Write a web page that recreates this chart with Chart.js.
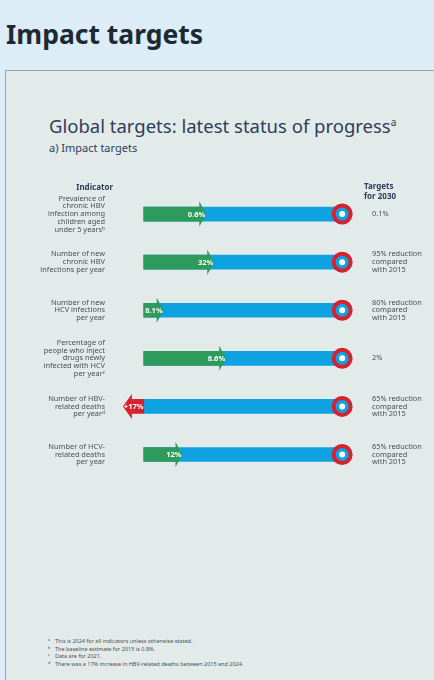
<!DOCTYPE html>
<html>
<head>
<meta charset="utf-8">
<script src="https://cdn.jsdelivr.net/npm/chart.js@4"></script>
<style>
  html, body { margin: 0; padding: 0; }
  body { width: 434px; height: 680px; position: relative; overflow: hidden; background: #dcedf8; font-family: "Noto Sans", sans-serif; }
  #header { position: absolute; left: 6px; top: 21px; font-size: 26.5px; line-height: 1; font-weight: 700; color: #1c2a35; }
  #panel { position: absolute; left: 5px; top: 70px; right: -2px; bottom: -2px; background: #e3ebea; border-left: 1.5px solid #9ba5a7; border-top: 1.5px solid #9ba5a7; }
  #title { position: absolute; left: 49px; top: 117px; font-size: 18.5px; line-height: 1; color: #2e3d5a; }
  #title sup { font-size: 10px; vertical-align: 7px; }
  #subtitle { position: absolute; left: 49px; top: 142px; font-size: 11px; line-height: 1; color: #2e3d5a; }
  #chartBox { position: absolute; left: 0; top: 170px; width: 434px; height: 331px; }
  #notes { position: absolute; left: 48px; top: 638px; font-size: 5.5px; line-height: 7.5px; color: #4a4f52; }
  #notes span { display: inline-block; width: 7px; }
</style>
</head>
<body>
<div id="header">Impact targets</div>
<div id="panel"></div>
<div id="title">Global targets: latest status of progress<sup>a</sup></div>
<div id="subtitle">a) Impact targets</div>
<div id="chartBox"><canvas id="progressChart"></canvas></div>
<div id="notes">
  <div><span>ᵃ</span>This is 2024 for all indicators unless otherwise stated.</div>
  <div><span>ᵇ</span>The baseline estimate for 2015 is 0.8%.</div>
  <div><span>ᶜ</span>Data are for 2021.</div>
  <div><span>ᵈ</span>There was a 17% increase in HBV-related deaths between 2015 and 2024.</div>
</div>
<script>
const indicators = [
  ["Prevalence of", "chronic HBV", "infection among", "children aged", "under 5 yearsᵇ"],
  ["Number of new", "chronic HBV", "infections per year"],
  ["Number of new", "HCV infections", "per year"],
  ["Percentage of", "people who inject", "drugs newly", "infected with HCV", "per yearᶜ"],
  ["Number of HBV-", "related deaths", "per yearᵈ"],
  ["Number of HCV-", "related deaths", "per year"],
];
const targets2030 = [
  "0.1%",
  ["95% reduction", "compared", "with 2015"],
  ["80% reduction", "compared", "with 2015"],
  "2%",
  ["65% reduction", "compared", "with 2015"],
  ["65% reduction", "compared", "with 2015"],
];
// progress along the track, 0 = 2015 baseline, 100 = 2030 target
const progress = [28, 32, 6.5, 38, -6, 16];
const progressLabels = ["0.6%", "32%", "8.1%", "8.6%", "+17%", "12%"];
const track = [100, 100, 100, 100, 100, 100];

const GREEN = "#2e9a5c";
const RED = "#d6212e";
const BLUE = "#0ea3e0";

// arrow heads + value text on the progress bars
const arrowPlugin = {
  id: "arrows",
  afterDatasetsDraw(chart) {
    const ctx = chart.ctx;
    const meta = chart.getDatasetMeta(0);
    meta.data.forEach((bar, i) => {
      const v = progress[i];
      const dir = v < 0 ? -1 : 1;
      const len = v < 0 ? 9 : 7;
      const tip = bar.x + dir * len;
      ctx.save();
      ctx.fillStyle = v < 0 ? RED : GREEN;
      ctx.beginPath();
      ctx.moveTo(bar.x, bar.y - 12.5);
      ctx.lineTo(tip, bar.y);
      ctx.lineTo(bar.x, bar.y + 12.5);
      ctx.closePath();
      ctx.fill();
      ctx.fillStyle = "#ffffff";
      ctx.font = "bold 7.5px 'Noto Sans'";
      ctx.textBaseline = "middle";
      if (v < 0) {
        ctx.textAlign = "left";
        ctx.fillText(progressLabels[i], tip + 1, bar.y + 0.5);
      } else {
        ctx.textAlign = "right";
        ctx.fillText(progressLabels[i], tip - 1, bar.y + 0.5);
      }
      ctx.restore();
    });
  },
};

// column headers above the axes
const headerPlugin = {
  id: "headers",
  afterDraw(chart) {
    const ctx = chart.ctx;
    const top = chart.chartArea.top;
    ctx.save();
    ctx.fillStyle = "#2c3b5a";
    ctx.font = "bold 8px 'Noto Sans'";
    ctx.textBaseline = "middle";
    ctx.textAlign = "right";
    ctx.fillText("Indicator", chart.scales.y.right - 3, top - 2);
    ctx.textAlign = "left";
    ctx.fillText("Targets", chart.scales.y2.left + 2, top - 3);
    ctx.fillText("for 2030", chart.scales.y2.left + 2, top + 7);
    ctx.restore();
  },
};

const tickFont = { family: "'Noto Sans'", size: 7.4, lineHeight: 1.05 };

new Chart(document.getElementById("progressChart"), {
  type: "bar",
  data: {
    labels: indicators,
    datasets: [
      {
        label: "Progress",
        data: progress,
        backgroundColor: (c) => (progress[c.dataIndex] < 0 ? RED : GREEN),
        barThickness: 14,
        grouped: false,
        order: 2,
      },
      {
        label: "Track",
        data: track,
        backgroundColor: BLUE,
        barThickness: 14,
        grouped: false,
        order: 3,
      },
      {
        type: "line",
        label: "Target",
        data: track,
        showLine: false,
        pointRadius: 8.5,
        pointBorderWidth: 4,
        pointBorderColor: RED,
        pointBackgroundColor: BLUE,
        order: 1,
      },
      {
        type: "line",
        label: "Target centre",
        data: track,
        showLine: false,
        pointRadius: 3,
        pointBorderWidth: 0,
        pointBackgroundColor: "#ffffff",
        order: 0,
      },
    ],
  },
  options: {
    indexAxis: "y",
    responsive: true,
    maintainAspectRatio: false,
    animation: false,
    layout: { padding: { top: 20, bottom: 1 } },
    scales: {
      x: { display: false, min: -14, max: 110 },
      y: {
        offset: true,
        grid: { display: false },
        border: { display: false },
        ticks: { font: tickFont, color: "#4b4f52", padding: 3 },
        afterFit: (s) => { s.width = 116; },
      },
      y2: {
        type: "category",
        position: "right",
        labels: targets2030,
        offset: true,
        grid: { display: false },
        border: { display: false },
        ticks: { font: tickFont, color: "#4b4f52", padding: 2 },
        afterFit: (s) => { s.width = 72; },
      },
    },
    plugins: {
      legend: { display: false },
      tooltip: { enabled: false },
    },
  },
  plugins: [arrowPlugin, headerPlugin],
});
</script>
</body>
</html>
